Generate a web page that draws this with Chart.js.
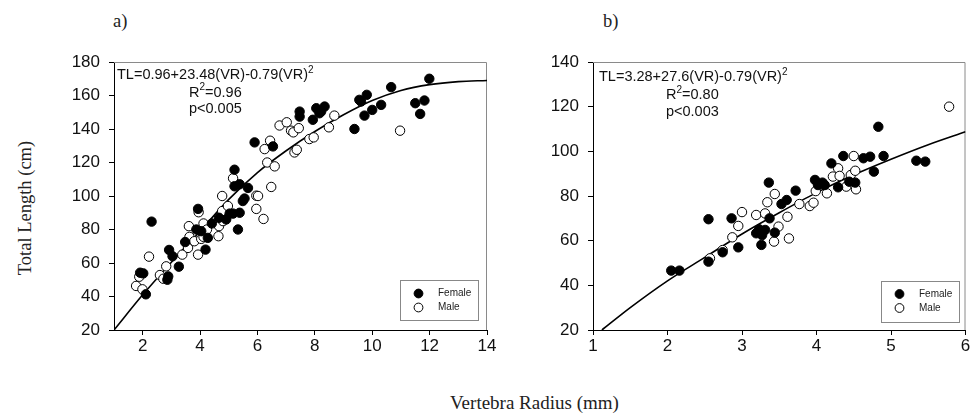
<html>
<head>
  <script src="https://cdn.jsdelivr.net/npm/chart.js@4.4.1/dist/chart.umd.min.js"></script>
  <style>
    body { margin: 0; background: #fff; width: 974px; height: 414px; position: relative; overflow: hidden; }
    canvas { position: absolute; top: 0; }
    .lbl { position: absolute; font-family: "Liberation Serif", serif; font-size: 18.5px; color: #222; white-space: nowrap; }
  </style>
</head>

<body>
  <div class="lbl" style="left:113px;top:11px">a)</div>
  <div class="lbl" style="left:603px;top:11px">b)</div>
  <div class="lbl" style="left:25px;top:208px;transform:translate(-50%,-50%) rotate(-90deg)">Total Length (cm)</div>
  <div class="lbl" style="left:450px;top:392px;font-size:19px">Vertebra Radius (mm)</div>
  <canvas id="panelA" width="530" height="414" style="left:0;width:530px;height:414px"></canvas>
  <canvas id="panelB" width="494" height="414" style="left:480px;width:494px;height:414px"></canvas>
</body>

<script>
  // panel a) all fish
  const femaleA_VR = [1.91, 2.02, 2.11, 2.31, 2.86, 2.89, 2.92, 3.04, 3.26, 3.48, 3.87, 3.93, 4.04, 4.19, 4.27, 4.41, 4.66, 4.91,
    5.03, 5.15, 5.2, 5.2, 5.38, 5.32, 5.38, 5.49, 5.55, 5.67, 5.9, 6.54, 7.47, 7.47, 7.93, 8.05, 8.16, 8.22, 8.34,
    9.38, 9.55, 9.61, 9.73, 9.81, 10.0, 10.31, 10.66, 11.5, 11.67, 11.82, 11.99];
  const femaleA_TL = [54.2, 53.8, 41.3, 84.7, 50, 52, 67.8, 64, 57.8, 72.5, 80, 92.3, 79, 68, 75, 83.6, 87, 86,
    89.5, 89.5, 115.7, 105.8, 107, 80, 90, 97, 98.5, 104.8, 132, 129.6, 150.4, 147.4, 145.5, 152.4, 149.4, 150.4, 153.4,
    140, 157.4, 156.4, 148, 160.4, 151.4, 154.4, 165, 155.4, 149, 157, 170];
  const maleA_VR = [1.77, 1.88, 1.99, 2.22, 2.6, 2.72, 2.82, 3.38, 3.58, 3.61, 3.63, 3.8, 3.95, 3.93, 4.04, 4.12, 4.12, 4.24,
    4.64, 4.66, 4.77, 4.77, 4.8, 4.97, 5.15, 5.96, 5.96, 6.02, 6.21, 6.25, 6.44, 6.34, 6.6, 6.48,
    6.77, 7.02, 7.17, 7.29, 7.37, 7.25, 7.44, 7.81, 7.96, 8.49, 8.68, 10.97];
  const maleA_TL = [46.3, 51.8, 44.3, 63.8, 52.8, 50.6, 58, 65, 69, 82, 75.6, 73, 90.3, 65, 74.4, 75.6, 83.6, 80,
    76, 82, 100, 91, 85, 94, 110.6, 100.2, 92.3, 100, 86.3, 128, 133, 120, 117.7, 105.4,
    142.1, 144, 139, 126, 127.6, 138, 140.5, 134, 135, 141, 148, 139];
  const curveA_VR = [1, 2, 3, 4, 5, 6, 7, 8, 9, 10, 11, 12, 13, 14];
  const curveA_TL = [20, 41, 60.5, 79, 98, 114, 127, 138.5, 148.5, 157, 163, 166.5, 168.3, 169];
  const xTicksA = [2, 4, 6, 8, 10, 12, 14];
  const yTicksA = [20, 40, 60, 80, 100, 120, 140, 160, 180];

  // panel b)
  const femaleB_VR = [2.05, 2.16, 2.55, 2.55, 2.74, 2.86, 2.95, 3.19, 3.23, 3.27, 3.31, 3.26, 3.36, 3.37, 3.44, 3.53, 3.6, 3.72,
    3.98, 4.02, 4.08, 4.11, 4.2, 4.29, 4.36, 4.44, 4.52, 4.63, 4.72, 4.77, 4.83, 4.9, 5.34, 5.46];
  const femaleB_TL = [46.6, 46.6, 69.6, 50.6, 54.8, 70, 57, 63.3, 65.1, 62.5, 64.8, 58.1, 86, 70, 63.6, 76.4, 78.2, 82.4,
    87.2, 84.9, 86, 84.9, 94.6, 83.9, 97.9, 86.4, 86, 96.9, 97.6, 90.9, 111, 97.9, 95.8, 95.4];
  const maleB_VR = [2.57, 2.74, 2.87, 2.95, 3.0, 3.19, 3.31, 3.34, 3.44, 3.43, 3.49, 3.61, 3.63, 3.77, 3.91, 3.96, 3.99,
    4.14, 4.22, 4.29, 4.31, 4.4, 4.46, 4.5, 4.52, 4.53, 5.78];
  const maleB_TL = [52.1, 55.8, 61.5, 66.6, 72.8, 71.5, 72.2, 77.2, 80.9, 59.6, 66.3, 70.7, 61, 76.4, 75.5, 77, 82.2,
    81.2, 88.7, 92.4, 89, 84.2, 89.4, 97.9, 91.3, 83, 120];
  const curveB_VR = [1.12, 1.5, 2, 2.5, 3, 3.5, 4, 4.5, 5, 5.5, 6];
  const curveB_TL = [20, 30, 42, 52.5, 63, 72.5, 81.5, 89.5, 96.5, 103, 108.8];
  const xTicksB = [1, 2, 3, 4, 5, 6];
  const yTicksB = [20, 40, 60, 80, 100, 120, 140];

  const pts = (xs, ys) => xs.map((x, i) => ({ x: x, y: ys[i] }));
  const tickFont = { family: 'Liberation Sans', size: 17 };

  // grey top/right border of the plot box
  const boxFrame = {
    id: 'boxFrame',
    beforeDatasetsDraw(chart) {
      const { ctx, chartArea: a } = chart;
      ctx.save();
      ctx.strokeStyle = '#8a8a8a';
      ctx.lineWidth = 1;
      ctx.beginPath();
      ctx.moveTo(a.left, a.top + 0.5);
      ctx.lineTo(a.right - 0.5, a.top + 0.5);
      ctx.lineTo(a.right - 0.5, a.bottom);
      ctx.stroke();
      ctx.restore();
    }
  };

  // fit equation, R2 and p in the top-left corner
  const fitText = {
    id: 'fitText',
    afterDraw(chart, args, opts) {
      const { ctx, chartArea: a } = chart;
      ctx.save();
      ctx.fillStyle = '#111';
      ctx.textBaseline = 'middle';
      opts.lines.forEach(line => {
        let x = a.left + line.dx;
        const y = a.top + line.dy;
        line.parts.forEach(p => {
          ctx.font = p.sup ? '10px "Liberation Sans"' : '14.5px "Liberation Sans"';
          ctx.fillText(p.t, x, p.sup ? y - 5 : y);
          x += ctx.measureText(p.t).width;
        });
      });
      ctx.restore();
    }
  };

  // small boxed legend in the bottom-right corner
  const cornerLegend = {
    id: 'cornerLegend',
    afterDraw(chart, args, opts) {
      const { ctx, chartArea: a } = chart;
      const bx = a.right - opts.right - opts.w, by = a.bottom - opts.bottom - opts.h;
      ctx.save();
      ctx.strokeStyle = '#888';
      ctx.lineWidth = 1;
      ctx.fillStyle = '#fff';
      ctx.fillRect(bx, by, opts.w, opts.h);
      ctx.strokeRect(Math.round(bx) + 0.5, Math.round(by) + 0.5, opts.w, opts.h);
      ctx.font = '10px "Liberation Sans"';
      ctx.textBaseline = 'middle';
      chart.data.datasets.filter(d => d.type !== 'line').forEach((d, i) => {
        const cy = by + 13.5 + i * 14;
        ctx.beginPath();
        ctx.arc(bx + 18.5, cy, 4.4, 0, Math.PI * 2);
        ctx.fillStyle = d.backgroundColor;
        ctx.fill();
        ctx.strokeStyle = '#000';
        ctx.stroke();
        ctx.fillStyle = '#222';
        ctx.fillText(d.label, bx + 38, cy);
      });
      ctx.restore();
    }
  };

  function makePanel(id, s) {
    return new Chart(document.getElementById(id), {
      type: 'scatter',
      data: {
        datasets: [
          { label: 'Female', data: pts(s.fx, s.fy), backgroundColor: '#000', borderColor: '#000', borderWidth: 1, pointRadius: 4.7, order: 1 },
          { label: 'Male', data: pts(s.mx, s.my), backgroundColor: '#fff', borderColor: '#000', borderWidth: 1, pointRadius: 4.7, order: 1 },
          { type: 'line', label: 'fit', data: pts(s.cx, s.cy), borderColor: '#000', borderWidth: 1.6, pointRadius: 0,
            cubicInterpolationMode: 'monotone', fill: false, order: 2 }
        ]
      },
      options: {
        responsive: false,
        animation: false,
        events: [],
        layout: { padding: { left: 0, top: 62, right: s.padRight, bottom: 44 } },
        plugins: {
          legend: { display: false },
          tooltip: { enabled: false },
          fitText: { lines: s.text },
          cornerLegend: s.legend
        },
        scales: {
          x: {
            type: 'linear', min: s.xmin, max: s.xmax,
            afterBuildTicks: sc => { sc.ticks = s.xticks.map(v => ({ value: v })); },
            afterFit: sc => { sc.height = 40; },
            border: { color: '#000', width: 1 },
            grid: { drawOnChartArea: false, tickLength: 5, color: '#000' },
            ticks: { font: tickFont, color: '#111', padding: 1, maxRotation: 0 }
          },
          y: {
            type: 'linear', min: s.ymin, max: s.ymax,
            afterBuildTicks: sc => { sc.ticks = s.yticks.map(v => ({ value: v })); },
            afterFit: sc => { sc.width = s.yWidth; },
            border: { color: '#000', width: 1 },
            grid: { drawOnChartArea: false, tickLength: 5, color: '#000' },
            ticks: { font: tickFont, color: '#111', padding: 9 }
          }
        }
      },
      plugins: [boxFrame, fitText, cornerLegend]
    });
  }

  makePanel('panelA', {
    fx: femaleA_VR, fy: femaleA_TL, mx: maleA_VR, my: maleA_TL, cx: curveA_VR, cy: curveA_TL,
    xmin: 1, xmax: 14, ymin: 20, ymax: 180, xticks: xTicksA, yticks: yTicksA,
    yWidth: 114, padRight: 43,
    legend: { right: 9, bottom: 10, w: 78, h: 40 },
    text: [
      { dx: 3, dy: 13, parts: [{ t: 'TL=0.96+23.48(VR)-0.79(VR)' }, { t: '2', sup: true }] },
      { dx: 75, dy: 30.5, parts: [{ t: 'R' }, { t: '2', sup: true }, { t: '=0.96' }] },
      { dx: 75, dy: 47, parts: [{ t: 'p<0.005' }] }
    ]
  });

  makePanel('panelB', {
    fx: femaleB_VR, fy: femaleB_TL, mx: maleB_VR, my: maleB_TL, cx: curveB_VR, cy: curveB_TL,
    xmin: 1, xmax: 6, ymin: 20, ymax: 140, xticks: xTicksB, yticks: yTicksB,
    yWidth: 113, padRight: 8.5,
    legend: { right: 6.5, bottom: 8.5, w: 78, h: 41 },
    text: [
      { dx: 6, dy: 15, parts: [{ t: 'TL=3.28+27.6(VR)-0.79(VR)' }, { t: '2', sup: true }] },
      { dx: 73, dy: 33, parts: [{ t: 'R' }, { t: '2', sup: true }, { t: '=0.80' }] },
      { dx: 73, dy: 50, parts: [{ t: 'p<0.003' }] }
    ]
  });
</script>

</html>
